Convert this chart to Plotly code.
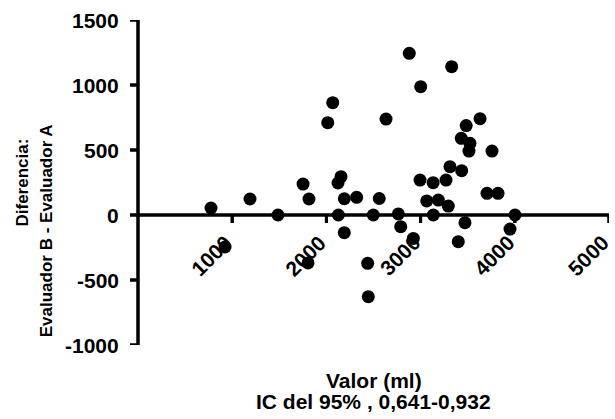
import plotly.graph_objects as go

# Mean value (ml) and difference (Evaluador B - Evaluador A)
valor = [775, 924, 1189, 1486, 1752, 1815, 1805, 2014, 2067, 2155, 2123, 2190, 2127, 2190,
         2321, 2498, 2561, 2438, 2445, 2633, 2764, 2789, 2923, 2880, 3001, 2994, 3065, 3135,
         3133, 3188, 3270, 3294, 3330, 3312, 3436, 3400, 3471, 3432, 3484, 3524, 3513, 3631,
         3758, 3705, 3822, 4002, 3949]
diferencia = [54, -246, 123, 0, 238, 123, -369, 710, 864, 295, 246, 125, 0, -136,
              136, 0, 127, -372, -628, 738, 8, -90, -180, 1244, 987, 269, 108, 0,
              249, 115, 269, 69, 1141, 372, 341, -205, -59, 590, 688, 551, 492, 741,
              492, 167, 167, 0, -108]

x_ticks = [1000, 2000, 3000, 4000, 5000]
y_ticks = [-1000, -500, 0, 500, 1000, 1500]
x_range = [0, 5000]
y_range = [-1000, 1500]
x_title = ["Valor (ml)", "IC del 95% , 0,641-0,932"]
y_title = ["Diferencia:", "Evaluador B - Evaluador A"]

# ---- layout constants (pixels) ----
W, H = 615, 419
AXIS_LEFT_PX = 138      # where the y axis sits
MARGIN_R, MARGIN_T, MARGIN_B = 6, 20, 74
LW = 3                  # axis line width
TL = 8                  # tick length

FONT = "Liberation Sans, Arial, sans-serif"
tick_font = dict(family=FONT, size=21, color="black")
xtitle_font = dict(family=FONT, size=21, color="black")
ytitle_font = dict(family=FONT, size=17, color="black")


def bold(s):
    return "<b>" + str(s) + "</b>"


# scales: data range extended to the left so that x = 0 lands at AXIS_LEFT_PX
axis_w_px = W - MARGIN_R - AXIS_LEFT_PX
px_per_x = axis_w_px / (x_range[1] - x_range[0])
x_per_px = 1 / px_per_x
x_left = x_range[0] - AXIS_LEFT_PX * x_per_px
plot_h_px = H - MARGIN_T - MARGIN_B
y_per_px = (y_range[1] - y_range[0]) / plot_h_px

hx = LW / 2 * x_per_px   # half line width in x data units
hy = LW / 2 * y_per_px   # half line width in y data units

axis_style = dict(color="black", width=LW)
traces = []
# x axis line at y = 0
traces.append(go.Scatter(x=x_range, y=[0, 0], mode="lines", line=axis_style,
                         hoverinfo="skip", showlegend=False))
# y axis line at x = 0
traces.append(go.Scatter(x=[x_range[0], x_range[0]], y=y_range, mode="lines", line=axis_style,
                         hoverinfo="skip", showlegend=False))
# x ticks
tx, ty = [], []
for t in x_ticks:
    tx += [t, t, None]
    ty += [0, -TL * y_per_px, None]
traces.append(go.Scatter(x=tx, y=ty, mode="lines", line=axis_style,
                         hoverinfo="skip", showlegend=False))
# y ticks
ux, uy = [], []
for t in y_ticks:
    ux += [x_range[0], x_range[0] - TL * x_per_px, None]
    uy += [t, t, None]
traces.append(go.Scatter(x=ux, y=uy, mode="lines", line=axis_style,
                         hoverinfo="skip", showlegend=False))
# data points
traces.append(go.Scatter(
    x=valor, y=diferencia, mode="markers",
    marker=dict(size=13, color="black", line=dict(width=0)),
    hoverinfo="x+y", showlegend=False, cliponaxis=False,
))

fig = go.Figure(traces)

# filled rectangles duplicating the axis line and ticks
shapes = [
    dict(type="rect", xref="x", yref="y", x0=x_range[0] - hx, x1=x_range[0] + hx,
         y0=y_range[0] - hy, y1=y_range[1], fillcolor="black", line=dict(width=0), layer="above"),
    dict(type="rect", xref="x", yref="y", x0=x_range[0] - hx, x1=x_range[1],
         y0=-hy, y1=hy, fillcolor="black", line=dict(width=0), layer="above"),
]
for t in x_ticks:
    shapes.append(dict(type="rect", xref="x", yref="y", x0=t - hx, x1=t + hx,
                       y0=-TL * y_per_px, y1=0, fillcolor="black", line=dict(width=0),
                       layer="above"))
for t in y_ticks:
    shapes.append(dict(type="rect", xref="x", yref="y", x0=x_range[0] - TL * x_per_px,
                       x1=x_range[0], y0=t - hy, y1=t + hy, fillcolor="black",
                       line=dict(width=0), layer="above"))

annotations = []
for t in x_ticks:
    annotations.append(dict(text=bold(t), xref="x", yref="y", x=t, y=0,
                            xanchor="right", yanchor="top", xshift=7, yshift=-13,
                            textangle=-45, showarrow=False, font=tick_font))
for t in y_ticks:
    annotations.append(dict(text=bold(t), xref="x", yref="y", x=x_range[0], y=t,
                            xanchor="right", yanchor="middle", xshift=-(TL + 9),
                            showarrow=False, font=tick_font))
annotations += [
    dict(text=bold(x_title[0]), xref="x", yref="paper", x=(x_range[0] + x_range[1]) / 2, y=0,
         yshift=-35, xanchor="center", yanchor="middle", showarrow=False, font=xtitle_font),
    dict(text=bold(x_title[1]), xref="x", yref="paper", x=(x_range[0] + x_range[1]) / 2, y=0,
         yshift=-56, xanchor="center", yanchor="middle", showarrow=False, font=xtitle_font),
    dict(text=bold(y_title[0]), xref="paper", yref="paper", x=0, y=0.50, xshift=22,
         xanchor="center", yanchor="middle", textangle=-90, showarrow=False, font=ytitle_font),
    dict(text=bold(y_title[1]), xref="paper", yref="paper", x=0, y=0.35, xshift=46,
         xanchor="center", yanchor="middle", textangle=-90, showarrow=False, font=ytitle_font),
]

fig.update_layout(
    width=W, height=H,
    margin=dict(l=0, r=MARGIN_R, t=MARGIN_T, b=MARGIN_B, pad=0),
    paper_bgcolor="white", plot_bgcolor="white",
    xaxis=dict(range=[x_left, x_range[1]], visible=False, showgrid=False, zeroline=False),
    yaxis=dict(range=y_range, visible=False, showgrid=False, zeroline=False),
    shapes=shapes,
    annotations=annotations,
)

fig.write_html("out.html")
